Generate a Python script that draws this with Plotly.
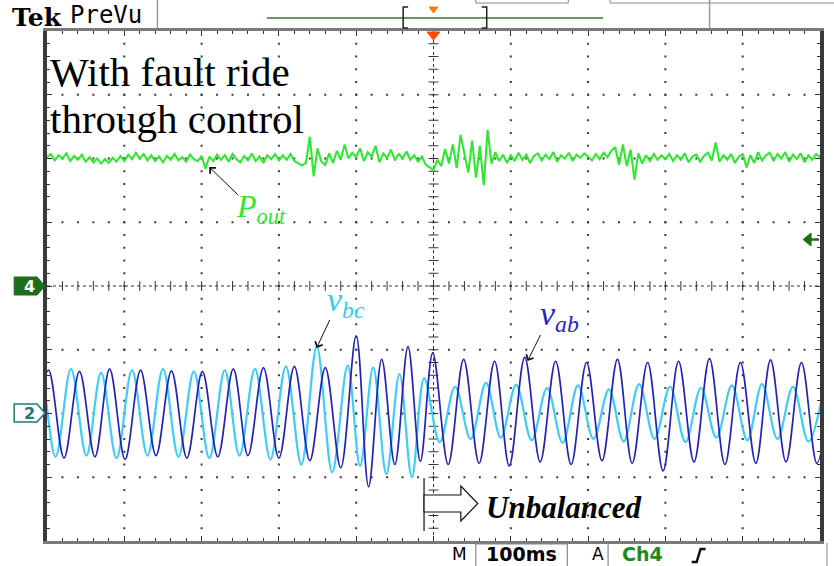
import plotly.graph_objects as go

# ------------------------------------------------------------------ data
# time axis: 100 ms / div, 10 divisions, trigger (fault instant) at t = 0
# vertical axis in divisions; Ch4 (P_out) ground at 0 div, Ch2 (voltages) ground at -2 div
ch2_offset_div = -2.0

# P_out samples, one every 5 ms from -500 ms to +500 ms (values in div)
pout_t0_ms = -500
pout_step_ms = 5
pout_div = [
    2.02, 2.07, 1.97, 2.05, 2.00, 2.08, 1.96, 2.04, 1.98, 2.06, 1.95, 2.02, 1.94, 2.00, 1.92, 1.99, 1.93, 2.01, 1.95, 2.04,
    1.96, 2.06, 1.99, 2.09, 2.00, 2.07, 1.97, 2.05, 1.96, 2.03, 1.94, 2.04, 1.98, 2.07, 1.97, 2.02, 1.95, 2.06, 1.99, 1.96,
    2.04, 1.84, 2.03, 1.96, 2.06, 1.98, 2.05, 1.95, 2.07, 1.99, 1.94, 2.04, 1.97, 2.08, 1.96, 2.03, 1.93, 2.05, 1.99, 2.07,
    1.97, 2.05, 1.98, 2.07, 1.96, 1.92, 1.89, 1.93, 2.34, 1.72, 2.16, 1.95, 1.90, 2.08, 1.93, 2.12, 1.98, 2.22, 2.00, 2.09,
    2.02, 2.16, 1.96, 2.10, 2.03, 2.20, 1.94, 2.08, 2.01, 2.14, 1.97, 2.07, 2.00, 2.11, 1.98, 2.05, 1.95, 2.03, 1.90, 1.86,
    1.82, 1.98, 1.88, 2.15, 1.92, 2.22, 1.85, 2.37, 2.05, 1.78, 2.28, 1.70, 2.20, 1.58, 2.45, 1.92, 2.10, 1.96, 2.06, 1.93,
    2.05, 1.96, 2.09, 1.98, 2.06, 1.93, 2.04, 2.08, 1.97, 2.06, 1.99, 2.10, 1.95, 2.05, 2.00, 2.09, 1.96, 2.06, 2.01, 2.08,
    2.03, 1.97, 2.07, 1.99, 2.09, 2.02, 2.12, 2.18, 1.90, 2.22, 1.88, 2.14, 1.67, 2.08, 1.92, 2.05, 1.96, 2.07, 1.98, 2.05,
    1.99, 2.07, 1.96, 2.05, 1.98, 2.08, 1.94, 2.03, 2.06, 1.95, 2.04, 2.09, 1.97, 2.25, 1.95, 2.05, 1.98, 2.07, 1.93, 2.03,
    2.07, 1.86, 2.05, 1.93, 2.10, 1.97, 2.05, 2.09, 1.96, 2.07, 2.00, 2.10, 1.95, 2.06, 1.99, 2.08, 1.94, 2.05, 1.98, 2.07,
    2.02,
]

# line-voltage extremes (alternating trough / peak), read per half cycle, in div about Ch2 ground
v_extreme_t_ms = [
    -518, -498, -478, -458, -438, -419, -399, -379, -359, -339, -319, -299, -279, -259, -240, -220, -200, -180,
    -160, -140, -120, -100, -84, -67, -50, -33, -17, -1, 19, 39, 59, 79, 98, 118, 138, 158, 178, 198, 218,
    238, 257, 277, 297, 317, 337, 357, 377, 397, 417, 436, 456, 476, 496, 516,
]
vab_div = [
    -0.66, 0.68, -0.70, 0.66, -0.68, 0.70, -0.72, 0.68, -0.66, 0.67, -0.70, 0.66, -0.68, 0.70, -0.66, 0.72,
    -0.70, 0.74, -0.74, 0.72, -0.85, 1.22, -1.15, 0.85, -0.80, 1.05, -0.75, 0.95, -0.80, 0.85, -0.78, 0.82,
    -0.82, 0.88, -0.76, 0.82, -0.80, 0.80, -0.74, 0.85, -0.78, 0.80, -0.90, 0.82, -0.76, 0.86, -0.80, 0.80,
    -0.78, 0.84, -0.76, 0.80, -0.78, 0.82,
]
vbc_div = [
    -0.64, 0.66, -0.68, 0.70, -0.66, 0.64, -0.70, 0.68, -0.66, 0.70, -0.68, 0.66, -0.70, 0.68, -0.66, 0.70,
    -0.72, 0.74, -0.80, 1.05, -0.92, 0.75, -0.82, 0.72, -0.95, 0.62, -1.00, 0.55, -0.45, 0.42, -0.40, 0.48,
    -0.38, 0.45, -0.42, 0.40, -0.46, 0.44, -0.40, 0.38, -0.44, 0.46, -0.40, 0.42, -0.45, 0.40, -0.38, 0.44,
    -0.42, 0.46, -0.40, 0.42, -0.44, 0.40,
]
vbc_phase_shift_ms = -11

# ------------------------------------------------------------------ geometry helpers (pixels -> paper)
FIG_W, FIG_H = 834, 566
L, R, T, B = 47, 824, 31, 541


def xp(px):
    return (px - L) / (R - L)


def yp(py):
    return (B - py) / (B - T)


def path(points, close=True):
    s = "M " + " L ".join(f"{xp(a):.5f},{yp(b):.5f}" for a, b in points)
    return s + (" Z" if close else "")


# ------------------------------------------------------------------ traces
pout_t = [pout_t0_ms + i * pout_step_ms for i in range(len(pout_div))]
vbc_t = [t + vbc_phase_shift_ms for t in v_extreme_t_ms]

fig = go.Figure()

# graticule dots
gx, gy = [], []
for xv in (-400, -300, -200, -100, 100, 200, 300, 400):
    for j in range(1, 40):
        gx.append(xv)
        gy.append(-4 + 0.2 * j)
for yv in (-3, -2, -1, 1, 2, 3):
    for k in range(1, 50):
        gx.append(-500 + 20 * k)
        gy.append(yv)
fig.add_trace(go.Scatter(x=gx, y=gy, mode="markers", hoverinfo="skip",
                         marker=dict(symbol="square", size=2, color="#3a3a3a", line=dict(width=0))))
# centre-line ticks
fig.add_trace(go.Scatter(x=[0] * 39, y=[-4 + 0.2 * j for j in range(1, 40)], mode="markers", hoverinfo="skip",
                         marker=dict(symbol="line-ew", size=7, line=dict(width=1, color="#333"))))
fig.add_trace(go.Scatter(x=[-500 + 20 * k for k in range(1, 50)], y=[0] * 49, mode="markers", hoverinfo="skip",
                         marker=dict(symbol="line-ns", size=7, line=dict(width=1, color="#333"))))

# signals
fig.add_trace(go.Scatter(x=vbc_t, y=[ch2_offset_div + v for v in vbc_div], mode="lines",
                         line=dict(color="#40ccf4", width=2.2, shape="spline", smoothing=1.0), hoverinfo="skip"))
fig.add_trace(go.Scatter(x=v_extreme_t_ms, y=[ch2_offset_div + v for v in vab_div], mode="lines",
                         line=dict(color="#2323b2", width=1.7, shape="spline", smoothing=1.0), hoverinfo="skip"))
fig.add_trace(go.Scatter(x=pout_t, y=pout_div, mode="lines",
                         line=dict(color="#33e633", width=2.1), hoverinfo="skip"))

# ------------------------------------------------------------------ shapes
shapes = []
# centre dotted lines
shapes.append(dict(type="line", xref="x", yref="y", x0=0, x1=0, y0=-4, y1=4,
                   line=dict(color="#333", width=1, dash="dot"), layer="below"))
shapes.append(dict(type="line", xref="x", yref="y", x0=-500, x1=500, y0=0, y1=0,
                   line=dict(color="#333", width=1, dash="dot"), layer="below"))

P = dict(xref="paper", yref="paper")
# header
shapes.append(dict(type="line", **P, x0=xp(158), x1=xp(158), y0=yp(0), y1=yp(28), line=dict(color="#999", width=1.5)))
shapes.append(dict(type="line", **P, x0=xp(713), x1=xp(713), y0=yp(0), y1=yp(28), line=dict(color="#999", width=1.5)))
shapes.append(dict(type="line", **P, x0=xp(268), x1=xp(606), y0=yp(18), y1=yp(18), line=dict(color="#2d7d2d", width=1.5)))
shapes.append(dict(type="path", **P, path=path([(410, 7), (405, 7), (405, 28), (410, 28)], close=False),
                   line=dict(color="#222", width=1.5)))
shapes.append(dict(type="path", **P, path=path([(484, 7), (489, 7), (489, 28), (484, 28)], close=False),
                   line=dict(color="#222", width=1.5)))
shapes.append(dict(type="path", **P, path=path([(431, 7), (440, 7), (435.5, 13)]), fillcolor="#ff7a00",
                   line=dict(color="#ff7a00", width=1)))
shapes.append(dict(type="rect", **P, x0=xp(478), x1=xp(571), y0=yp(3), y1=yp(-3), line=dict(color="#888", width=1)))
shapes.append(dict(type="rect", **P, x0=xp(613), x1=xp(840), y0=yp(3), y1=yp(-3), line=dict(color="#888", width=1)))
# trigger position marker on top border
shapes.append(dict(type="path", **P, path=path([(429, 32), (442, 32), (435.5, 40)]), fillcolor="#ff4a00",
                   line=dict(color="#ff4a00", width=1)))
# channel markers
shapes.append(dict(type="path", **P, path=path([(14, 277), (37, 277), (45, 286), (37, 295), (14, 295)]),
                   fillcolor="#1d6e1d", line=dict(color="#1d6e1d", width=1)))
shapes.append(dict(type="path", **P, path=path([(14, 404), (37, 404), (45, 413), (37, 422), (14, 422)]),
                   fillcolor="white", line=dict(color="#1e7b7b", width=1.5)))
# trigger level arrow (right)
shapes.append(dict(type="path", **P, path=path([(807, 239.5), (815, 233), (815, 246)]),
                   fillcolor="#1d6e1d", line=dict(color="#1d6e1d", width=1)))
shapes.append(dict(type="line", **P, x0=xp(814), x1=xp(823), y0=yp(239.5), y1=yp(239.5),
                   line=dict(color="#1d6e1d", width=2.5)))
# footer
shapes.append(dict(type="rect", **P, x0=xp(478), x1=xp(570), y0=yp(544), y1=yp(567), line=dict(color="#888", width=1.2)))
shapes.append(dict(type="line", **P, x0=xp(611), x1=xp(611), y0=yp(543), y1=yp(566), line=dict(color="#888", width=1.2)))
shapes.append(dict(type="line", **P, x0=xp(831), x1=xp(831), y0=yp(543), y1=yp(566), line=dict(color="#999", width=1.2)))
shapes.append(dict(type="path", **P, path=path([(695, 562), (700, 562), (704, 549), (709, 549)], close=False),
                   line=dict(color="#111", width=2.5)))
# "Unbalanced" hollow arrow
shapes.append(dict(type="line", **P, x0=xp(426), x1=xp(426), y0=yp(478), y1=yp(531), line=dict(color="#222", width=1.3)))
shapes.append(dict(type="path", **P,
                   path=path([(426, 495), (463, 495), (463, 486), (480, 503.5), (463, 521), (463, 512), (426, 512)]),
                   fillcolor="white", line=dict(color="#111", width=1.2)))

# ------------------------------------------------------------------ annotations
ann = []


def text(px, py, s, size, color="#000", family="Liberation Serif", xanchor="left", yanchor="middle"):
    ann.append(dict(xref="paper", yref="paper", x=xp(px), y=yp(py), text=s, showarrow=False,
                    xanchor=xanchor, yanchor=yanchor, font=dict(size=size, color=color, family=family)))


def arrow(hx, hy, tx, ty):
    ann.append(dict(xref="paper", yref="paper", x=xp(hx), y=yp(hy), ax=tx - hx, ay=ty - hy, text=" ",
                    showarrow=True, arrowhead=4, arrowsize=1.6, arrowwidth=1, arrowcolor="#111",
                    font=dict(size=4)))


text(48, 72, "With fault ride", 41)
text(48, 119, "through control", 41)
text(235, 208, "<i>P<sub>out</sub></i>", 32, color="#2ee82e")
text(326, 302, "<i>v<sub>bc</sub></i>", 34, color="#33ccf0")
text(541, 316, "<i>v<sub>ab</sub></i>", 34, color="#2626c0")
text(486, 507, "<b><i>Unbalanced</i></b>", 31)
arrow(210, 167, 241, 197)
arrow(318, 348, 333, 316)
arrow(530, 361, 545, 331)

text(10, 17, "<b>Tek</b>", 25, family="DejaVu Serif")
text(68, 15, "PreVu", 24, family="DejaVu Sans Mono")
text(29.5, 286, "<b>4</b>", 16, color="white", family="DejaVu Sans", xanchor="center")
text(29.5, 413, "<b>2</b>", 16, color="#1e7b7b", family="DejaVu Sans", xanchor="center")
text(452, 554, "M", 17, family="DejaVu Sans")
text(524, 554, "<b>100ms</b>", 19, family="DejaVu Sans", xanchor="center")
text(593, 554, "A", 17, family="DejaVu Sans")
text(623, 554, "<b>Ch4</b>", 19, color="#1f8a1f", family="DejaVu Sans")

fig.update_layout(
    width=FIG_W, height=FIG_H,
    margin=dict(l=L, r=FIG_W - R, t=T, b=FIG_H - B, pad=0),
    paper_bgcolor="white", plot_bgcolor="white",
    showlegend=False,
    shapes=shapes, annotations=ann,
    xaxis=dict(range=[-500, 500], showgrid=False, zeroline=False, showticklabels=False,
               ticks="inside", ticklen=5, tickwidth=1, tickcolor="#333", tick0=-500, dtick=100,
               minor=dict(ticks="inside", ticklen=3, tickcolor="#333", tick0=-500, dtick=20),
               showline=True, linecolor="#7a7a7a", linewidth=3, mirror="ticks", fixedrange=True),
    yaxis=dict(range=[-4, 4], showgrid=False, zeroline=False, showticklabels=False,
               ticks="inside", ticklen=5, tickwidth=1, tickcolor="#333", tick0=-4, dtick=1,
               minor=dict(ticks="inside", ticklen=3, tickcolor="#333", tick0=-4, dtick=0.2),
               showline=True, linecolor="#3a3a3a", linewidth=4, mirror="ticks", fixedrange=True),
)

fig.write_html("out.html", config={"displayModeBar": False},
               post_script="document.body.style.margin='0';document.body.style.overflow='hidden';")
